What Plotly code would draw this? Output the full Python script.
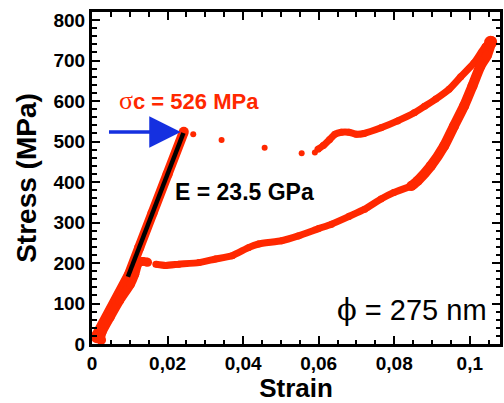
import plotly.graph_objects as go

# ---- data ----
x_tick_vals = [0, 0.02, 0.04, 0.06, 0.08, 0.1]
x_tick_text = ["0", "0,02", "0,04", "0,06", "0,08", "0,1"]
y_tick_vals = [0, 100, 200, 300, 400, 500, 600, 700, 800]

loading_x = [0.0012, 0.0039, 0.0063, 0.0087, 0.0097, 0.0125, 0.0160, 0.0200, 0.0243]
loading_y = [22, 66, 107, 148, 170, 238, 323, 419, 524]

drop_x = [0.0268, 0.0343, 0.0457, 0.0555, 0.0590]
drop_y = [518, 504, 485, 471, 473]

upper_x = [0.0598, 0.0612, 0.0629, 0.0643, 0.0660, 0.0680, 0.0700, 0.0720, 0.0765,
           0.0809, 0.0853, 0.0880, 0.0910, 0.0945, 0.0976, 0.1011, 0.1041, 0.1058]
upper_y = [481, 490, 505, 518, 523, 523, 518, 520, 534,
           551, 571, 587, 605, 629, 660, 694, 735, 748]

steep_x = [0.1058, 0.1045, 0.1028, 0.1007, 0.0985, 0.0958, 0.0932, 0.0897, 0.0862, 0.0845]
steep_y = [748, 712, 686, 637, 588, 538, 489, 440, 403, 390]

lower_x = [0.0845, 0.0799, 0.0765, 0.0722, 0.0680, 0.0634, 0.0600, 0.0546, 0.0502,
           0.0441, 0.0414, 0.0371, 0.0327, 0.0283, 0.0230, 0.0195, 0.0169]
lower_y = [390, 374, 358, 333, 315, 296, 285, 267, 255,
           247, 238, 218, 210, 201, 197, 194, 197]

back_x = [0.0147, 0.0134, 0.0122, 0.0113, 0.0102, 0.0073, 0.0048, 0.0027, 0.0022]
back_y = [202, 204, 199, 172, 148, 107, 66, 30, 14]

peak_x = [0.1055]
peak_y = [745]
origin_x = [0.0012, 0.0024]
origin_y = [14, 10]

fit_x = [0.0095, 0.0242]
fit_y = [166, 521]

arrow_tail = (0.0041, 523.5)
arrow_tip = (0.0235, 523.5)

RED = "#FF2800"
BLUE = "#1530E0"
SANS = "Liberation Sans, Arial, sans-serif"

fig = go.Figure()


def band(x, y, w, shape="spline"):
    fig.add_trace(go.Scatter(x=x, y=y, mode="lines+markers",
                             line=dict(color=RED, width=w, shape=shape, smoothing=0.5),
                             marker=dict(color=RED, size=w, line=dict(width=0)),
                             hoverinfo="skip", showlegend=False))


band(loading_x, loading_y, 10, "linear")
band(back_x, back_y, 9)
band(upper_x, upper_y, 7)
band(steep_x, steep_y, 10)
band(lower_x, lower_y, 7)

fig.add_trace(go.Scatter(x=drop_x, y=drop_y, mode="markers",
                         marker=dict(color=RED, size=6, line=dict(width=0)),
                         hoverinfo="skip", showlegend=False))
fig.add_trace(go.Scatter(x=peak_x, y=peak_y, mode="markers",
                         marker=dict(color=RED, size=13, line=dict(width=0)),
                         hoverinfo="skip", showlegend=False))
fig.add_trace(go.Scatter(x=origin_x, y=origin_y, mode="markers",
                         marker=dict(color=RED, size=10, line=dict(width=0)),
                         hoverinfo="skip", showlegend=False))
fig.add_trace(go.Scatter(x=fit_x, y=fit_y, mode="lines",
                         line=dict(color="black", width=4.5),
                         hoverinfo="skip", showlegend=False))

fig.add_annotation(x=arrow_tip[0], y=arrow_tip[1], ax=arrow_tail[0], ay=arrow_tail[1],
                   xref="x", yref="y", axref="x", ayref="y", text="",
                   showarrow=True, arrowhead=2, arrowsize=1.8, arrowwidth=3.5,
                   arrowcolor=BLUE, standoff=0)

fig.add_annotation(x=0.0067, y=602, xref="x", yref="y", xanchor="left", yanchor="middle",
                   showarrow=False,
                   text='<span style="font-family:Liberation Serif;font-weight:normal;font-size:26px">σ</span>c = 526 MPa',
                   font=dict(family=SANS, size=22, color=RED, weight="bold"))
fig.add_annotation(x=0.02145, y=375, xref="x", yref="y", xanchor="left", yanchor="middle",
                   showarrow=False, text="E = 23.5 GPa",
                   font=dict(family=SANS, size=23, color="black", weight="bold"))
fig.add_annotation(x=0.1050, y=84, xref="x", yref="y", xanchor="right", yanchor="middle",
                   showarrow=False,
                   text='<span style="font-family:DejaVu Serif">ϕ</span> = 275 nm',
                   font=dict(family=SANS, size=29, color="black"))

axis_common = dict(showline=True, linecolor="black", linewidth=3, mirror="allticks",
                   ticks="inside", ticklen=8, tickwidth=2, tickcolor="black",
                   showgrid=False, zeroline=False,
                   tickfont=dict(family=SANS, size=19, color="black", weight="bold"))

fig.update_xaxes(range=[0, 0.108], tickvals=x_tick_vals, ticktext=x_tick_text,
                 minor=dict(dtick=0.005, tick0=0, ticks="inside", ticklen=4.5, tickwidth=2,
                            tickcolor="black", showgrid=False),
                 title=dict(text="Strain", standoff=10,
                            font=dict(family=SANS, size=26, color="black", weight="bold")),
                 **axis_common)
fig.update_yaxes(range=[0, 820], tickvals=y_tick_vals,
                 minor=dict(dtick=20, tick0=0, ticks="inside", ticklen=4.5, tickwidth=2,
                            tickcolor="black", showgrid=False),
                 title=dict(text="Stress (MPa)", standoff=9,
                            font=dict(family=SANS, size=28, color="black", weight="bold")),
                 **axis_common)

fig.update_layout(width=504, height=403, margin=dict(l=92, r=1, t=12, b=58),
                  paper_bgcolor="white", plot_bgcolor="white", showlegend=False)

fig.write_html("out.html", config={"displayModeBar": False},
               post_script="document.body.style.margin='0';document.body.style.padding='0';")
